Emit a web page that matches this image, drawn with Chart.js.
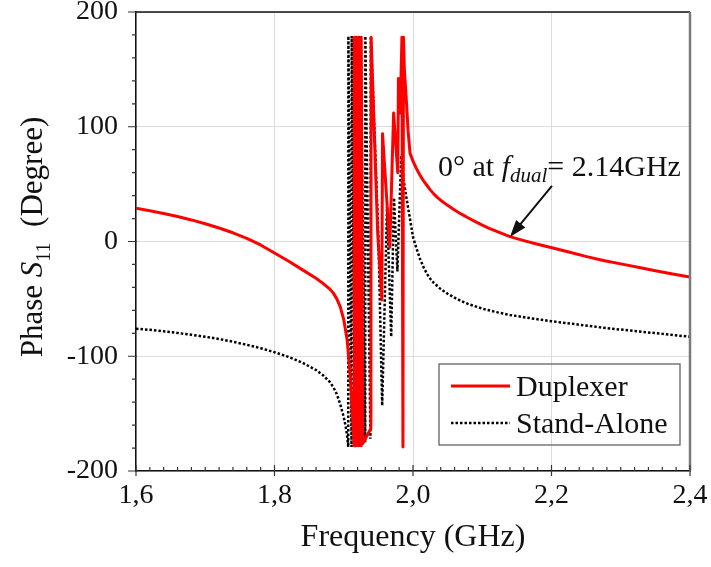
<!DOCTYPE html>
<html>
<head>
<meta charset="utf-8">
<title>Phase S11</title>
<script src="https://cdn.jsdelivr.net/npm/chart.js@4.4.1/dist/chart.umd.min.js"></script>
<style>
  html, body { margin: 0; padding: 0; background: #ffffff; }
  canvas { display: block; }
</style>
</head>
<body>
<canvas id="phaseChart" width="711" height="567"></canvas>
<script>
// values (frequency in GHz, phase in degree)
const freqDuplexer = [
    1.600, 1.620, 1.640, 1.660, 1.680, 1.700, 1.720, 1.740, 1.760, 1.780, 1.800, 1.820, 1.840, 1.860,
    1.870, 1.880, 1.885, 1.890, 1.895, 1.900, 1.905, 1.909, 1.9125, 1.9150,
    1.9152, 1.9175, 1.9177, 1.9205, 1.9207, 1.9250, 1.9252, 1.9275, 1.9392, 1.9395, 1.9490, 1.9550,
    1.9560, 1.9665, 1.9720, 1.9780, 1.9790, 1.9815, 1.9840, 1.9855, 1.9862, 1.9875, 1.9907, 1.9928,
    1.9957, 2.000, 2.005, 2.010, 2.015, 2.020, 2.025, 2.030, 2.035, 2.040, 2.050, 2.060, 2.070, 2.080,
    2.090, 2.100, 2.110, 2.120, 2.140, 2.160, 2.180, 2.202, 2.225, 2.251, 2.275, 2.300, 2.325, 2.350,
    2.375, 2.400
];
const phaseDuplexer = [
    29, 26.8, 24.4, 21.8, 18.8, 15.5, 11.8, 7.6, 2.8, -3, -10, -17, -24.5, -32,
    -36.5, -41.5, -45, -50, -57, -68, -86, -115, -150, -178,
    178, -178, 178, -178, 178, -178, 178, -176, -163, 178, 7, -51,
    94, -5, 112, 60, 142, 112, 178, -179, 178, 150, 120, 97,
    77, 70, 63.5, 58, 53, 49, 45, 41.5, 38.5, 36, 31.5, 27.5, 23.8, 20.5,
    17.3, 14.3, 11.5, 9, 4.2, 0.8, -2.4, -5.6, -9.2, -13.2, -16.5, -19.5, -22.5, -25.5,
    -28.4, -31
];

const freqStandAlone = [
    1.600, 1.620, 1.640, 1.660, 1.680, 1.700, 1.720, 1.740, 1.760, 1.780, 1.800, 1.820, 1.840, 1.860,
    1.870, 1.880, 1.885, 1.890, 1.895, 1.900, 1.903, 1.905, 1.9065,
    1.9067, 1.9113, 1.9115, 1.9163, 1.9165, 1.9208, 1.9210, 1.9243, 1.9245, 1.9310, 1.9312, 1.9385,
    1.9392, 1.9500, 1.9555, 1.9625, 1.9685, 1.9725, 1.9775, 1.9830, 1.9860, 1.9900, 1.9950, 2.000,
    2.005, 2.010, 2.015, 2.020, 2.025, 2.030, 2.040, 2.050, 2.060, 2.070, 2.080, 2.100, 2.120, 2.140,
    2.160, 2.200, 2.240, 2.280, 2.320, 2.360, 2.400
];
const phaseStandAlone = [
    -76, -77, -78.3, -79.7, -81.3, -83, -85, -87.3, -90, -93, -96.5, -100.5, -105.5, -112,
    -116.5, -122.5, -127, -133, -142, -153, -162, -170, -179,
    179, -179, 179, -179, 179, -179, 179, -179, 179, -175, 179, -172,
    179, 5, -143, 30, -83, 38, -26, 75, 55, 40, 22, 4,
    -6, -15, -22, -28, -32.5, -36, -41.5, -45.5, -49, -52, -54.5, -58.5, -61.5, -64,
    -66, -69.5, -72.5, -75.5, -78, -80.5, -83
];

const xTickLabels = ['1,6', '1,8', '2,0', '2,2', '2,4'];
const yTickValues = [-200, -100, 0, 100, 200];

const serif = '"Liberation Serif", "Times New Roman", serif';
const ink = '#111111';

function toPoints(xs, ys) {
    return xs.map((x, i) => ({ x: x, y: ys[i] }));
}

// frame, minor ticks, rotated y title, legend and the arrow note
const decorPlugin = {
    id: 'decor',
    afterDraw(chart) {
        const ctx = chart.ctx;
        const a = chart.chartArea;
        const xs = chart.scales.x;
        const ys = chart.scales.y;

        ctx.save();

        // top and right frame
        ctx.strokeStyle = ink;
        ctx.lineWidth = 1.5;
        ctx.beginPath();
        ctx.moveTo(a.left, a.top);
        ctx.lineTo(a.right, a.top);
        ctx.stroke();
        ctx.strokeStyle = '#7a7a7a';
        ctx.lineWidth = 2.5;
        ctx.beginPath();
        ctx.moveTo(a.right, a.top);
        ctx.lineTo(a.right, a.bottom);
        ctx.stroke();

        // tick marks
        ctx.strokeStyle = '#333333';
        ctx.lineWidth = 1.2;
        ctx.beginPath();
        for (let k = 0; k <= 40; k++) {
            const px = xs.getPixelForValue(1.6 + k * 0.02);
            const major = k % 10 === 0;
            ctx.moveTo(px, a.bottom - (major ? 6 : 4));
            ctx.lineTo(px, a.bottom + (major ? 5 : 0));
        }
        for (let v = -200; v <= 200; v += 20) {
            const py = ys.getPixelForValue(v);
            const major = v % 100 === 0;
            ctx.moveTo(a.left - (major ? 8 : 4), py);
            ctx.lineTo(a.left + (major ? 1 : 0), py);
        }
        ctx.stroke();

        // y title: Phase S11 (Degree)
        ctx.fillStyle = ink;
        ctx.textBaseline = 'alphabetic';
        ctx.textAlign = 'left';
        ctx.translate(42, 237);
        ctx.rotate(-Math.PI / 2);
        const partsY = [
            { t: 'Phase ', f: '31px ' + serif, dy: 0 },
            { t: 'S', f: 'italic 31px ' + serif, dy: 0 },
            { t: '11', f: '20px ' + serif, dy: 8 },
            { t: '  (Degree)', f: '31px ' + serif, dy: 0 }
        ];
        let total = 0;
        partsY.forEach(p => { ctx.font = p.f; p.w = ctx.measureText(p.t).width; total += p.w; });
        let cx = -total / 2;
        partsY.forEach(p => { ctx.font = p.f; ctx.fillText(p.t, cx, p.dy); cx += p.w; });
        ctx.setTransform(1, 0, 0, 1, 0, 0);

        // legend
        const lg = { left: 439, top: 364, right: 680, bottom: 445 };
        ctx.strokeStyle = '#555555';
        ctx.lineWidth = 1.2;
        ctx.strokeRect(lg.left, lg.top, lg.right - lg.left, lg.bottom - lg.top);
        const rows = [386, 423];
        chart.data.datasets.forEach((ds, i) => {
            const ry = rows[i];
            ctx.strokeStyle = ds.borderColor;
            ctx.lineWidth = ds.borderWidth;
            ctx.setLineDash(ds.borderDash || []);
            ctx.beginPath();
            ctx.moveTo(451, ry);
            ctx.lineTo(510, ry);
            ctx.stroke();
            ctx.setLineDash([]);
            ctx.fillStyle = ink;
            ctx.font = '30px ' + serif;
            ctx.textBaseline = 'middle';
            ctx.fillText(ds.label, 516, ry + 2);
        });

        // note: 0° at f_dual = 2.14GHz
        ctx.textBaseline = 'alphabetic';
        const partsN = [
            { t: '0\u00b0 at ', f: '30px ' + serif, dy: 0 },
            { t: 'f', f: 'italic 30px ' + serif, dy: 0 },
            { t: 'dual', f: 'italic 21px ' + serif, dy: 6 },
            { t: '= 2.14GHz', f: '30px ' + serif, dy: 0 }
        ];
        let nx = 438;
        partsN.forEach(p => {
            ctx.font = p.f;
            ctx.fillText(p.t, nx, 176 + p.dy);
            nx += ctx.measureText(p.t).width;
        });

        // arrow pointing at the duplexer curve near 2.14 GHz
        const tipX = xs.getPixelForValue(2.14);
        const tipY = ys.getPixelForValue(4);
        const fromX = tipX + 42, fromY = tipY - 51;
        const ang = Math.atan2(tipY - fromY, tipX - fromX);
        ctx.strokeStyle = ink;
        ctx.lineWidth = 2;
        ctx.beginPath();
        ctx.moveTo(fromX, fromY);
        ctx.lineTo(tipX - 12 * Math.cos(ang), tipY - 12 * Math.sin(ang));
        ctx.stroke();
        ctx.fillStyle = ink;
        ctx.beginPath();
        ctx.moveTo(tipX, tipY);
        ctx.lineTo(tipX - 17 * Math.cos(ang) + 6 * Math.sin(ang), tipY - 17 * Math.sin(ang) - 6 * Math.cos(ang));
        ctx.lineTo(tipX - 17 * Math.cos(ang) - 6 * Math.sin(ang), tipY - 17 * Math.sin(ang) + 6 * Math.cos(ang));
        ctx.closePath();
        ctx.fill();

        ctx.restore();
    }
};

new Chart(document.getElementById('phaseChart'), {
    type: 'line',
    data: {
        datasets: [
            {
                label: 'Duplexer',
                data: toPoints(freqDuplexer, phaseDuplexer),
                borderColor: '#ff0000',
                borderWidth: 3,
                borderJoinStyle: 'round',
                pointRadius: 0,
                tension: 0,
                fill: false
            },
            {
                label: 'Stand-Alone',
                data: toPoints(freqStandAlone, phaseStandAlone),
                borderColor: '#000000',
                borderWidth: 2.5,
                borderDash: [2.5, 2],
                borderCapStyle: 'butt',
                pointRadius: 0,
                tension: 0,
                fill: false
            }
        ]
    },
    options: {
        responsive: false,
        animation: false,
        devicePixelRatio: 1,
        layout: { padding: { left: 0, right: 21, top: 12, bottom: 0 } },
        plugins: {
            legend: { display: false },
            tooltip: { enabled: false }
        },
        scales: {
            x: {
                type: 'linear',
                min: 1.6,
                max: 2.4,
                grid: { color: '#dcdcdc', lineWidth: 1, drawTicks: false },
                border: { color: ink, width: 1.5 },
                ticks: {
                    stepSize: 0.2,
                    autoSkip: false,
                    maxRotation: 0,
                    padding: 8,
                    color: ink,
                    font: { family: serif, size: 28 },
                    callback: (v, i) => xTickLabels[i]
                },
                title: {
                    display: true,
                    text: 'Frequency (GHz)',
                    color: ink,
                    font: { family: serif, size: 32 },
                    padding: { top: 0, bottom: 10 }
                },
                afterFit(scale) {
                    scale.height = 96;
                    scale.paddingLeft = 0;
                    scale.paddingRight = 0;
                }
            },
            y: {
                type: 'linear',
                min: yTickValues[0],
                max: yTickValues[yTickValues.length - 1],
                grid: { color: '#dcdcdc', lineWidth: 1, drawTicks: false },
                border: { color: ink, width: 1.5 },
                ticks: {
                    stepSize: 100,
                    padding: 18,
                    color: ink,
                    font: { family: serif, size: 28 }
                },
                afterFit(scale) {
                    scale.width = 136;
                    scale.paddingTop = 0;
                    scale.paddingBottom = 0;
                }
            }
        }
    },
    plugins: [decorPlugin]
});
</script>
</body>
</html>
